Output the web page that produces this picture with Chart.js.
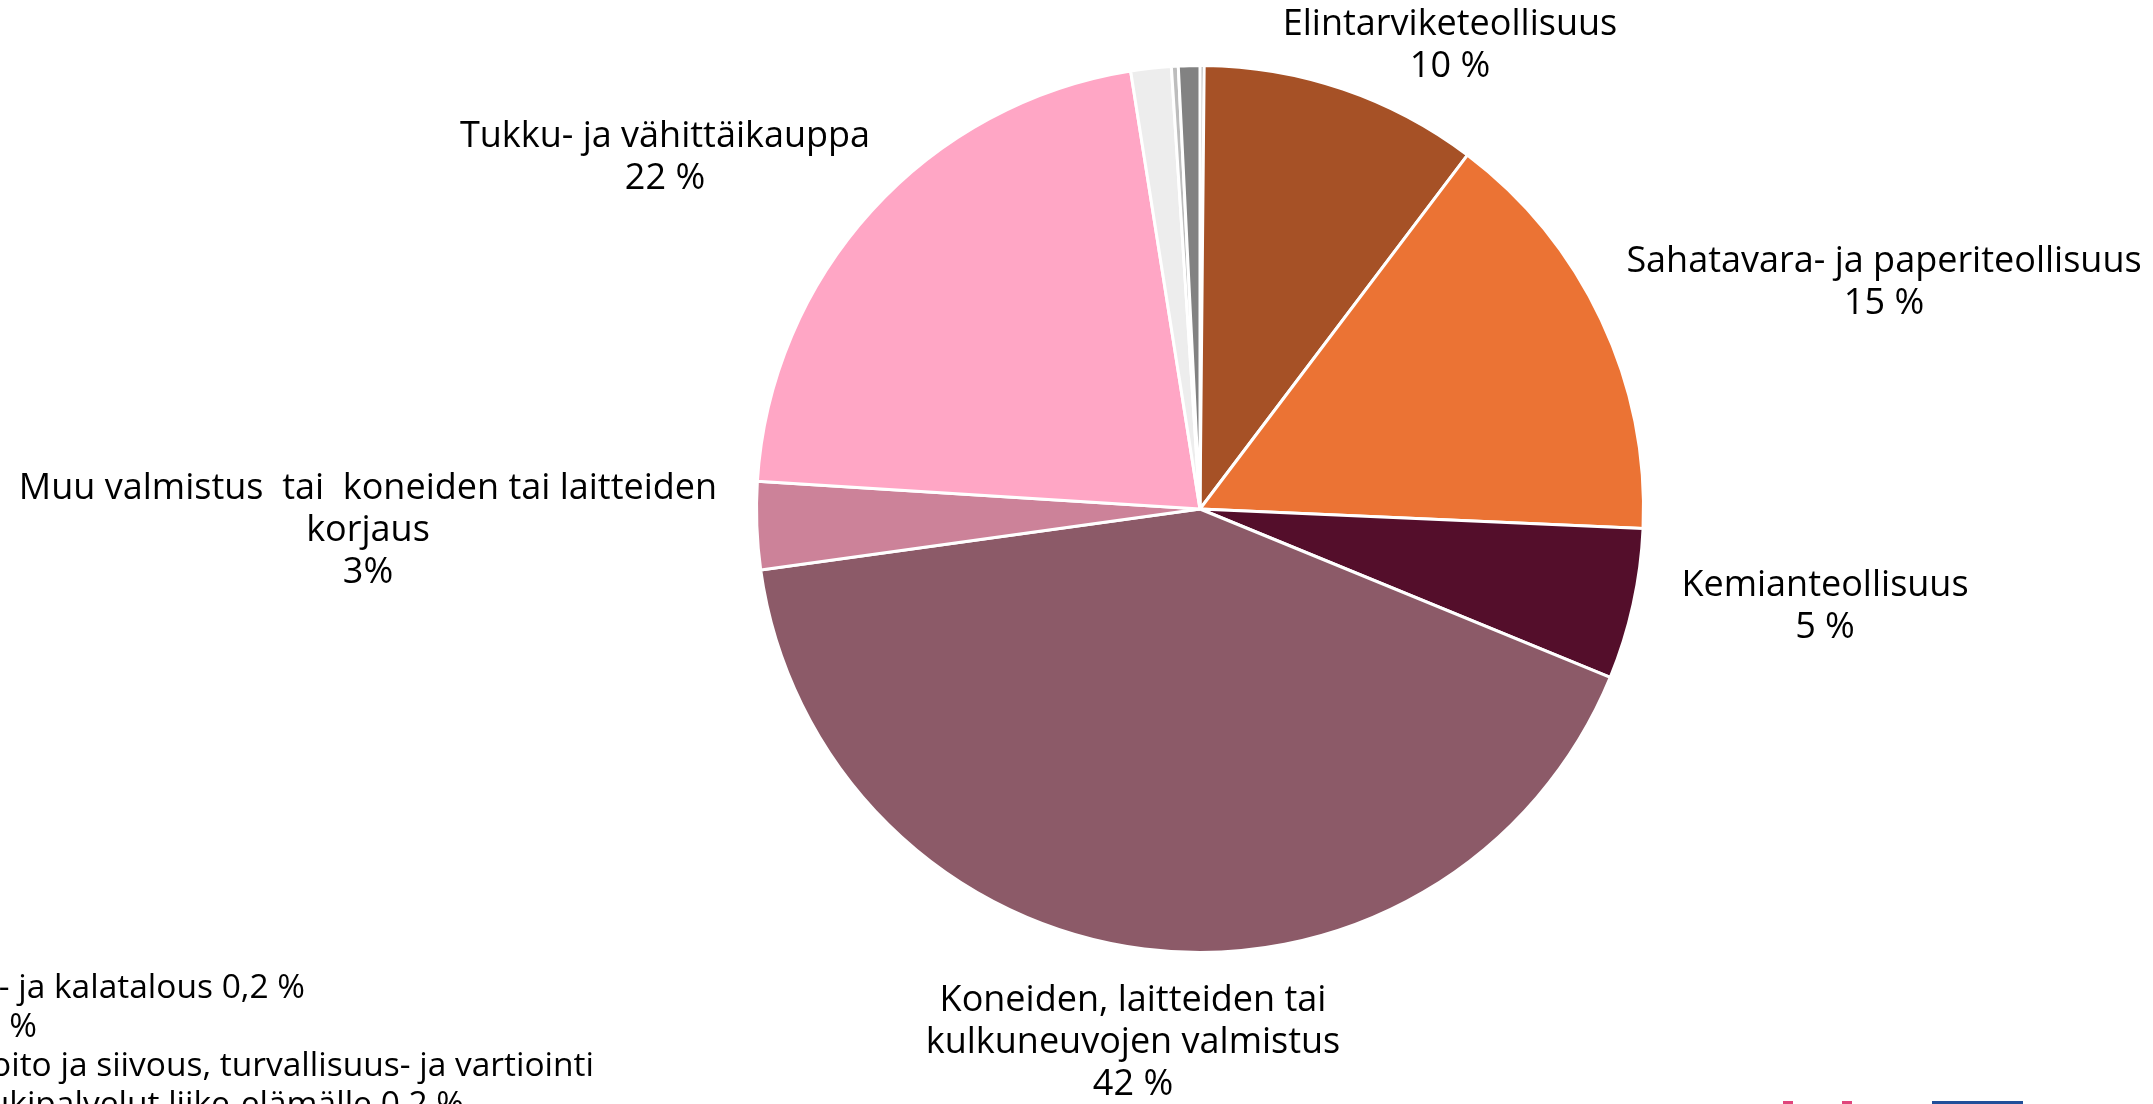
<!DOCTYPE html>
<html>
<head>
<meta charset="utf-8">
<script src="https://cdn.jsdelivr.net/npm/chart.js@4"></script>
<style>
  html, body { margin: 0; padding: 0; background: #ffffff; overflow: hidden; }
  #wrap { position: relative; width: 2153px; height: 1104px; }
</style>
</head>
<body>
<div id="wrap"><canvas id="pieChart"></canvas></div>
<script>
// Slice names, starting from 12 o'clock and going clockwise
const categories = [
    'Maa-, metsä- ja kalatalous',
    'Elintarviketeollisuus',
    'Sahatavara- ja paperiteollisuus',
    'Kemianteollisuus',
    'Koneiden, laitteiden tai kulkuneuvojen valmistus',
    'Muu valmistus tai koneiden tai laitteiden korjaus',
    'Tukku- ja vähittäiskauppa',
    'Kaivostoiminta ja louhinta',
    'Kiinteistöjen hoito ja siivous, turvallisuus- ja vartiointi sekä muut tukipalvelut liike-elämälle',
    'Muut toimialat'
];

// Shares in percent
const shares = [0.15, 10.15, 15.4, 5.5, 41.6, 3.2, 21.5, 1.47, 0.25, 0.78];

// Labels printed next to the big slices (lines of text)
const labelLines = [
    null,
    ['Elintarviketeollisuus', '10 %'],
    ['Sahatavara- ja paperiteollisuus', '15 %'],
    ['Kemianteollisuus', '5 %'],
    ['Koneiden, laitteiden tai', 'kulkuneuvojen valmistus', '42 %'],
    ['Muu valmistus  tai  koneiden tai laitteiden', 'korjaus', '3%'],
    ['Tukku- ja vähittäikauppa', '22 %'],
    null, null, null
];

// Legend text in the lower left corner (cut by the picture edge)
const legendLines = [
    'Maa-, metsä- ja kalatalous 0,2 %',
    'Kaivostoiminta ja louhinta 0,2 %',
    'Kiinteistöjen hoito ja siivous, turvallisuus- ja vartiointi',
    'sekä muut tukipalvelut liike-elämälle 0,2 %'
];

const sliceColors = [
    '#8a8a8a', // tiny top slice
    '#a65126', // Elintarvike
    '#eb7334', // Sahatavara
    '#540e2b', // Kemian
    '#8c5a68', // Koneiden
    '#cc8299', // Muu valmistus
    '#ffa6c5', // Tukku
    '#ededed',
    '#bdbdbd',
    '#828282'
];

// first line of each label block (offset from pie centre, px)
const labelOffsets = [
    null,
    [250, -484],
    [684, -247],
    [625, 77],
    [-67, 492],
    [-832, -20],
    [-535, -372],
    null, null, null
];

const FONT = '"Open Sans", "Noto Sans", sans-serif';

const labelPlugin = {
    id: 'sliceLabels',
    afterDraw(chart) {
        const ctx = chart.ctx;
        const arc = chart.getDatasetMeta(0).data[0];
        const cx = arc.x, cy = arc.y;
        ctx.save();
        ctx.fillStyle = '#000000';
        ctx.font = '36px ' + FONT;
        ctx.textAlign = 'center';
        ctx.textBaseline = 'middle';
        labelLines.forEach(function(lines, i) {
            if (!lines) return;
            const off = labelOffsets[i];
            lines.forEach(function(t, j) {
                ctx.fillText(t, cx + off[0], cy + off[1] + j * 42);
            });
        });

        // legend lines, right aligned so the start falls off the left edge
        ctx.font = '33.5px ' + FONT;
        ctx.textAlign = 'left';
        const ends = [305, 37, 594, 464];
        legendLines.forEach(function(t, i) {
            const w = ctx.measureText(t).width;
            ctx.fillText(t, ends[i] - w, 988 + i * 39);
        });

        // fragments of logos at the bottom edge
        ctx.fillStyle = '#e0457b';
        ctx.fillRect(1783, 1101, 10, 3);
        ctx.fillRect(1842, 1101, 10, 3);
        ctx.fillStyle = '#214f9a';
        ctx.fillRect(1932, 1101, 91, 3);
        ctx.restore();
    }
};

document.addEventListener('DOMContentLoaded', function() {
    const canvas = document.getElementById('pieChart');
    canvas.width = 2153;
    canvas.height = 1104;
    const ctx = canvas.getContext('2d');

    new Chart(ctx, {
        type: 'pie',
        data: {
            labels: categories,
            datasets: [{
                data: shares,
                backgroundColor: sliceColors,
                borderColor: '#ffffff',
                borderWidth: 3
            }]
        },
        options: {
            responsive: false,
            maintainAspectRatio: false,
            animation: false,
            layout: {
                padding: { left: 755, right: 508, top: 64, bottom: 150 }
            },
            plugins: {
                legend: { display: false },
                tooltip: { enabled: false }
            }
        },
        plugins: [labelPlugin]
    });
});
</script>
</body>
</html>
